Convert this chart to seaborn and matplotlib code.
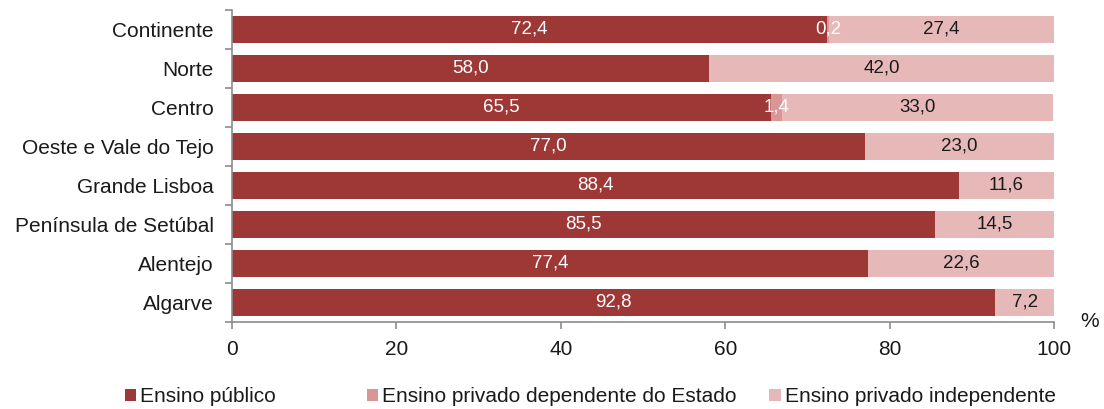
import matplotlib
matplotlib.use("Agg")
import matplotlib.pyplot as plt
from matplotlib.patches import Patch
import numpy as np
import pandas as pd
import seaborn as sns

regions = ["Continente", "Norte", "Centro", "Oeste e Vale do Tejo",
           "Grande Lisboa", "Península de Setúbal", "Alentejo", "Algarve"]
publico = [72.4, 58.0, 65.5, 77.0, 88.4, 85.5, 77.4, 92.8]
privado_dep = [0.2, 0.0, 1.4, 0.0, 0.0, 0.0, 0.0, 0.0]
privado_ind = [27.4, 42.0, 33.0, 23.0, 11.6, 14.5, 22.6, 7.2]

series_names = ["Ensino público", "Ensino privado dependente do Estado",
                "Ensino privado independente"]
colors = ["#9E3836", "#D99694", "#E6B9B8"]

sns.set_theme(style="white")
plt.rcParams["font.family"] = ["Liberation Sans", "DejaVu Sans"]

df = pd.DataFrame({"region": regions, "pub": publico,
                   "dep": privado_dep, "ind": privado_ind})
df["c1"] = df["pub"]
df["c2"] = df["pub"] + df["dep"]
df["c3"] = df["c2"] + df["ind"]

fig = plt.figure(figsize=(11.04, 4.09), dpi=100)
ax = fig.add_axes([0.2099, 0.2134, 0.955 - 0.2099, 0.9756 - 0.2134])

# stacked bars drawn as overlapping cumulative totals
for col, color in zip(["c3", "c2", "c1"], colors[::-1]):
    sns.barplot(data=df, x=col, y="region", order=regions, color=color,
                orient="h", width=0.7, saturation=1, ax=ax, linewidth=0)

# segment value labels
fs = 15
fs_bar = 13.5
txt = "#1a1a1a"
for i in range(len(regions)):
    starts = [0, df["c1"][i], df["c2"][i]]
    vals = [publico[i], privado_dep[i], privado_ind[i]]
    txtcol = ["white", "white", txt]
    for s, v, c in zip(starts, vals, txtcol):
        if v > 0:
            ax.text(s + v / 2, i, f"{v:.1f}".replace(".", ","), ha="center",
                    va="center", color=c, fontsize=fs_bar)

ax.set_xlim(0, 100)
ax.set_ylim(len(regions) - 0.5, -0.5)
ax.set_xticks(np.arange(0, 101, 20))
ax.set_xlabel("")
ax.set_ylabel("")

sns.despine(ax=ax, top=True, right=True)
spine_col = "#8C8C8C"
for s in ["left", "bottom"]:
    ax.spines[s].set_color(spine_col)
    ax.spines[s].set_linewidth(1.2)

ax.set_yticks(np.arange(-0.5, len(regions), 1.0), minor=True)
ax.tick_params(axis="y", which="major", length=0, pad=13, labelsize=fs,
               labelcolor=txt)
ax.tick_params(axis="y", which="minor", length=5, width=1.2,
               color=spine_col, direction="out", left=True)
ax.tick_params(axis="x", which="major", length=5, width=1.2,
               color=spine_col, direction="out", bottom=True, pad=8,
               labelsize=fs, labelcolor=txt)

fig.text(0.995, 0.215, "%", ha="right", va="center", fontsize=fs, color=txt)

# legend entries placed individually along the bottom
legend_x = [0.113, 0.332, 0.697]
for name, color, x in zip(series_names, colors, legend_x):
    leg = fig.legend([Patch(facecolor=color, edgecolor="none")], [name],
                     loc="center left", bbox_to_anchor=(x, 0.03),
                     frameon=False, fontsize=fs, handlelength=0.55,
                     handleheight=0.55, handletextpad=0.2, borderpad=0,
                     borderaxespad=0, labelcolor=txt)

fig.savefig("out.png", dpi=100)
